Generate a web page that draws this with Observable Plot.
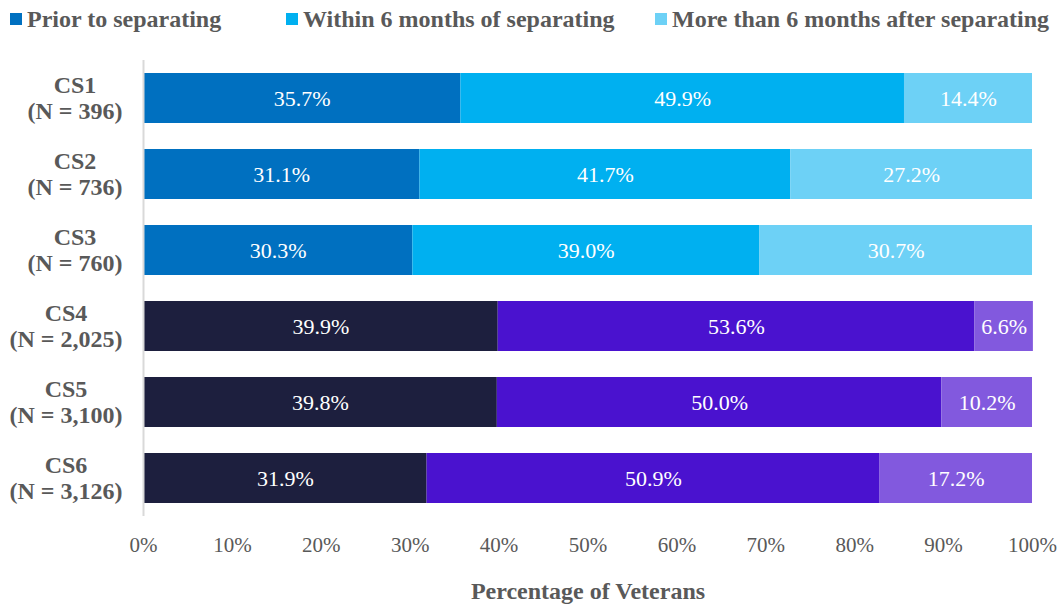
<!DOCTYPE html>
<html>
<head>
<meta charset="utf-8">
<script src="https://cdn.jsdelivr.net/npm/d3@7"></script>
<script src="https://cdn.jsdelivr.net/npm/@observablehq/plot@0.6"></script>
<style>
  html, body { margin: 0; padding: 0; background: #fff; }
  #wrap { position: relative; width: 1061px; height: 606px; font-family: "Liberation Serif", "Times New Roman", serif; }
  #legend { position: absolute; top: 0; left: 0; width: 1061px; height: 40px; font-weight: bold; font-size: 24px; color: #595959; white-space: nowrap; }
  .item { position: absolute; top: 5px; display: flex; align-items: center; line-height: 28px; }
  .sw { width: 12px; height: 12px; margin-right: 5px; display: inline-block; }
  #chart svg { display: block; }
  #chart svg text { font-family: "Liberation Serif", "Times New Roman", serif !important; }
</style>
</head>
<body>
<div id="wrap">
  <div id="chart"></div>
  <div id="legend"></div>
</div>
<script>
const cohorts = ["CS1", "CS2", "CS3", "CS4", "CS5", "CS6"];
const sampleSizes = ["396", "736", "760", "2,025", "3,100", "3,126"];
const seriesNames = ["Prior to separating", "Within 6 months of separating", "More than 6 months after separating"];
const priorValues = [35.7, 31.1, 30.3, 39.9, 39.8, 31.9];
const withinValues = [49.9, 41.7, 39.0, 53.6, 50.0, 50.9];
const afterValues = [14.4, 27.2, 30.7, 6.6, 10.2, 17.2];
const xTicks = [0, 10, 20, 30, 40, 50, 60, 70, 80, 90, 100];
const bluePalette = ["#0070C0", "#00B0F0", "#6DD1F6"];
const purplePalette = ["#1D1F3E", "#4A12CF", "#8259DE"];
const legendLeft = [10, 286, 655];

const seriesValues = [priorValues, withinValues, afterValues];
const rows = [];
cohorts.forEach((c, i) => {
  seriesValues.forEach((vals, s) => {
    rows.push({
      cohort: c,
      series: seriesNames[s],
      order: s,
      value: vals[i],
      color: (i < 3 ? bluePalette : purplePalette)[s]
    });
  });
});

// measure label widths so each two-line block is right-aligned with lines centred within it
const ctx = document.createElement("canvas").getContext("2d");
ctx.font = "bold 24px 'Liberation Serif'";
const labelInfo = cohorts.map((c, i) => {
  const l1 = c, l2 = `(N = ${sampleSizes[i]})`;
  const w = Math.max(ctx.measureText(l1).width, ctx.measureText(l2).width);
  return { cohort: c, text: `${l1}\n${l2}`, shift: -21 - w / 2 };
});

const legend = document.getElementById("legend");
seriesNames.forEach((n, s) => {
  const it = document.createElement("span");
  it.className = "item";
  it.style.left = legendLeft[s] + "px";
  it.innerHTML = `<span class="sw" style="background:${bluePalette[s]}"></span>${n}`;
  legend.appendChild(it);
});

const chart = Plot.plot({
  width: 1061,
  height: 606,
  marginTop: 60,
  marginBottom: 90,
  marginLeft: 143,
  marginRight: 29,
  style: { fontFamily: "'Liberation Serif', 'Times New Roman', serif", background: "transparent" },
  x: { domain: [0, 100], axis: null },
  y: { domain: cohorts, paddingInner: 0.342, paddingOuter: 0.171, axis: null },
  color: { type: "identity" },
  marks: [
    Plot.barX(rows, Plot.stackX({ x: "value", y: "cohort", z: "series", order: "order", fill: "color" })),
    Plot.text(rows, Plot.stackX({ x: "value", y: "cohort", z: "series", order: "order", text: d => d.value.toFixed(1) + "%", fill: "white", fontSize: 22 })),
    Plot.ruleX([0], { stroke: "#D9D9D9", strokeWidth: 2 }),
    ...labelInfo.map(L => Plot.text([L], { y: "cohort", text: "text", frameAnchor: "left", dx: L.shift, dy: -1, textAnchor: "middle", lineAnchor: "middle", lineHeight: 1.08, fontSize: 24, fontWeight: "bold", fill: "#595959" })),
    Plot.text(xTicks, { x: d => d, text: d => d + "%", frameAnchor: "bottom", dy: 29, lineAnchor: "middle", fontSize: 21, fill: "#595959" }),
    Plot.text(["Percentage of Veterans"], { frameAnchor: "bottom", dy: 75, lineAnchor: "middle", fontSize: 24, fontWeight: "bold", fill: "#595959" })
  ]
});
document.getElementById("chart").appendChild(chart);
</script>
</body>
</html>
